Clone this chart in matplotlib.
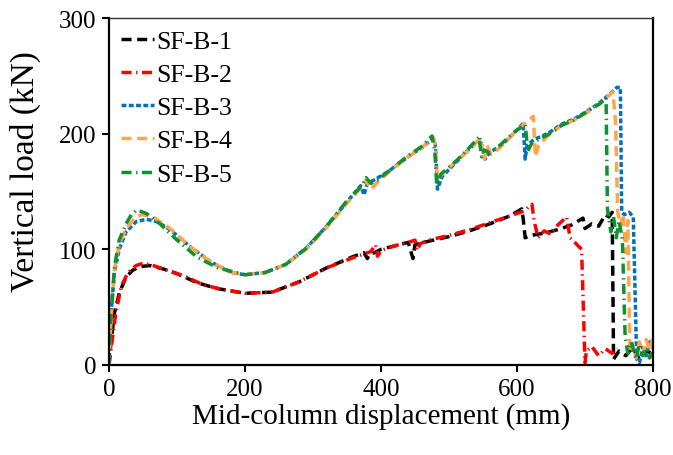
import matplotlib
matplotlib.use("Agg")
import matplotlib.pyplot as plt

plt.rcParams['font.family'] = ['Liberation Serif', 'DejaVu Serif']

# ---- data (mm, kN) ----
x1 = [0, 3, 8, 15, 25, 35, 45, 60, 80, 100, 130, 160, 200, 240, 280, 320, 360, 375, 380, 383, 390, 400, 420, 440, 447, 450, 455, 470, 500, 530, 560, 590, 607, 609, 612, 620, 640, 660, 680, 697, 700, 710, 720, 730, 735, 740, 742, 750, 760, 770, 780, 790, 800]
y1 = [0, 20, 45, 62, 76, 82, 85, 86, 83, 79, 71, 66, 62, 63, 72, 84, 94, 97, 92, 96, 97, 100, 103, 106, 92, 104, 105, 107, 111, 116, 122, 129, 135, 127, 110, 112, 114, 117, 121, 127, 118, 122, 120, 130, 128, 132, 5, 12, 8, 15, 5, 12, 10]

x2 = [0, 4, 10, 18, 28, 40, 50, 65, 85, 110, 140, 170, 200, 240, 280, 320, 360, 385, 392, 395, 400, 420, 440, 450, 453, 458, 470, 500, 530, 560, 590, 610, 622, 625, 631, 640, 650, 660, 673, 678, 685, 695, 700, 702, 710, 720, 730, 740, 748]
y2 = [0, 18, 45, 68, 80, 86, 88, 86, 82, 77, 69, 65, 62, 63, 72, 84, 93, 98, 104, 94, 99, 103, 106, 108, 99, 105, 108, 112, 117, 123, 129, 133, 139, 125, 110, 116, 113, 121, 128, 110, 106, 100, 2, 12, 16, 8, 14, 10, 14]

x3 = [0, 3, 8, 15, 25, 40, 55, 70, 90, 120, 150, 180, 200, 230, 260, 290, 320, 350, 370, 375, 380, 390, 410, 440, 460, 477, 480, 483, 490, 510, 530, 546, 550, 553, 560, 575, 595, 609, 612, 615, 625, 645, 665, 685, 705, 722, 740, 747, 752, 754, 758, 765, 771, 776, 780, 785, 790, 795, 800]
y3 = [0, 45, 80, 100, 115, 124, 126, 124, 117, 102, 89, 80, 78, 80, 87, 101, 120, 141, 155, 147, 157, 160, 167, 180, 188, 196, 190, 152, 163, 175, 187, 195, 185, 178, 184, 189, 200, 209, 178, 190, 195, 200, 208, 213, 220, 227, 236, 240, 240, 132, 130, 132, 128, 5, 2, 15, 8, 20, 14]

x4 = [0, 3, 8, 15, 25, 38, 48, 65, 90, 120, 150, 180, 200, 230, 260, 290, 320, 350, 372, 378, 385, 395, 410, 440, 460, 477, 480, 483, 490, 510, 530, 546, 552, 556, 562, 575, 595, 615, 624, 627, 632, 645, 665, 685, 705, 722, 741, 745, 748, 752, 756, 760, 763, 766, 770, 775, 780, 785, 790, 795, 800]
y4 = [0, 40, 82, 104, 118, 127, 130, 128, 118, 102, 89, 80, 78, 80, 87, 100, 119, 140, 154, 160, 152, 158, 166, 180, 188, 197, 188, 160, 165, 176, 186, 196, 178, 190, 182, 188, 200, 211, 215, 180, 190, 198, 207, 212, 219, 226, 236, 210, 133, 120, 130, 97, 125, 11, 18, 6, 20, 10, 22, 12, 25]

x5 = [0, 3, 8, 15, 25, 33, 41, 55, 75, 100, 130, 160, 200, 230, 260, 290, 320, 350, 372, 378, 385, 395, 410, 440, 460, 475, 479, 482, 488, 510, 530, 544, 548, 552, 560, 575, 595, 612, 616, 622, 645, 665, 685, 705, 722, 731, 733, 738, 742, 746, 750, 755, 759, 763, 768, 775, 780, 785, 790, 795, 800]
y5 = [0, 42, 85, 108, 122, 130, 134, 131, 122, 108, 93, 84, 78, 80, 87, 101, 120, 142, 155, 162, 157, 160, 167, 181, 189, 198, 186, 155, 165, 176, 188, 197, 180, 186, 183, 190, 201, 208, 185, 192, 199, 207, 212, 220, 226, 231, 135, 115, 128, 110, 125, 108, 25, 10, 20, 5, 18, 8, 15, 6, 12]

labels = ['SF-B-1', 'SF-B-2', 'SF-B-3', 'SF-B-4', 'SF-B-5']
xticks = [0, 200, 400, 600, 800]
yticks = [0, 100, 200, 300]

# ---- figure ----
fig = plt.figure(figsize=(6.73, 4.56), dpi=100)
ax = fig.add_axes([109/673, 1 - 366/456, (653 - 109)/673, (366 - 19)/456])

lw = 2.5
dash_long = (2.9, 1.6)
dash_dot = (2.9, 1.3, 0.4, 1.3)
dash_short = (1.4, 0.7)
ax.plot(x1, y1, color='black', lw=lw, dashes=dash_long, label=labels[0])
ax.plot(x2, y2, color='#FF0000', lw=lw, dashes=dash_dot, label=labels[1])
ax.plot(x3, y3, color='#0070C0', lw=lw, dashes=dash_short, label=labels[2])
ax.plot(x4, y4, color='#FFA64D', lw=lw, dashes=dash_long, label=labels[3])
ax.plot(x5, y5, color='#11902F', lw=lw, dashes=dash_dot, label=labels[4])

ax.set_xlim(0, 800)
ax.set_ylim(0, 300)
ax.set_xticks(xticks)
ax.set_yticks(yticks)
ax.tick_params(direction='out', length=5, width=1.5, labelsize=18, pad=4)
for s in ax.spines.values():
    s.set_linewidth(1.6)
ax.spines['top'].set_linewidth(1.0)
ax.spines['top'].set_color('#333333')

ax.set_xlabel('Mid-column displacement (mm)', fontsize=21, labelpad=2)
ax.set_ylabel('Vertical load (kN)', fontsize=24)
ax.yaxis.set_label_coords(-0.125, 0.56)

ax.legend(loc='upper left', frameon=False, fontsize=18.5, handlelength=1.3,
          handletextpad=0.1, labelspacing=0.4, borderaxespad=0.0,
          borderpad=0.45)

fig.savefig('out.png', dpi=100)
